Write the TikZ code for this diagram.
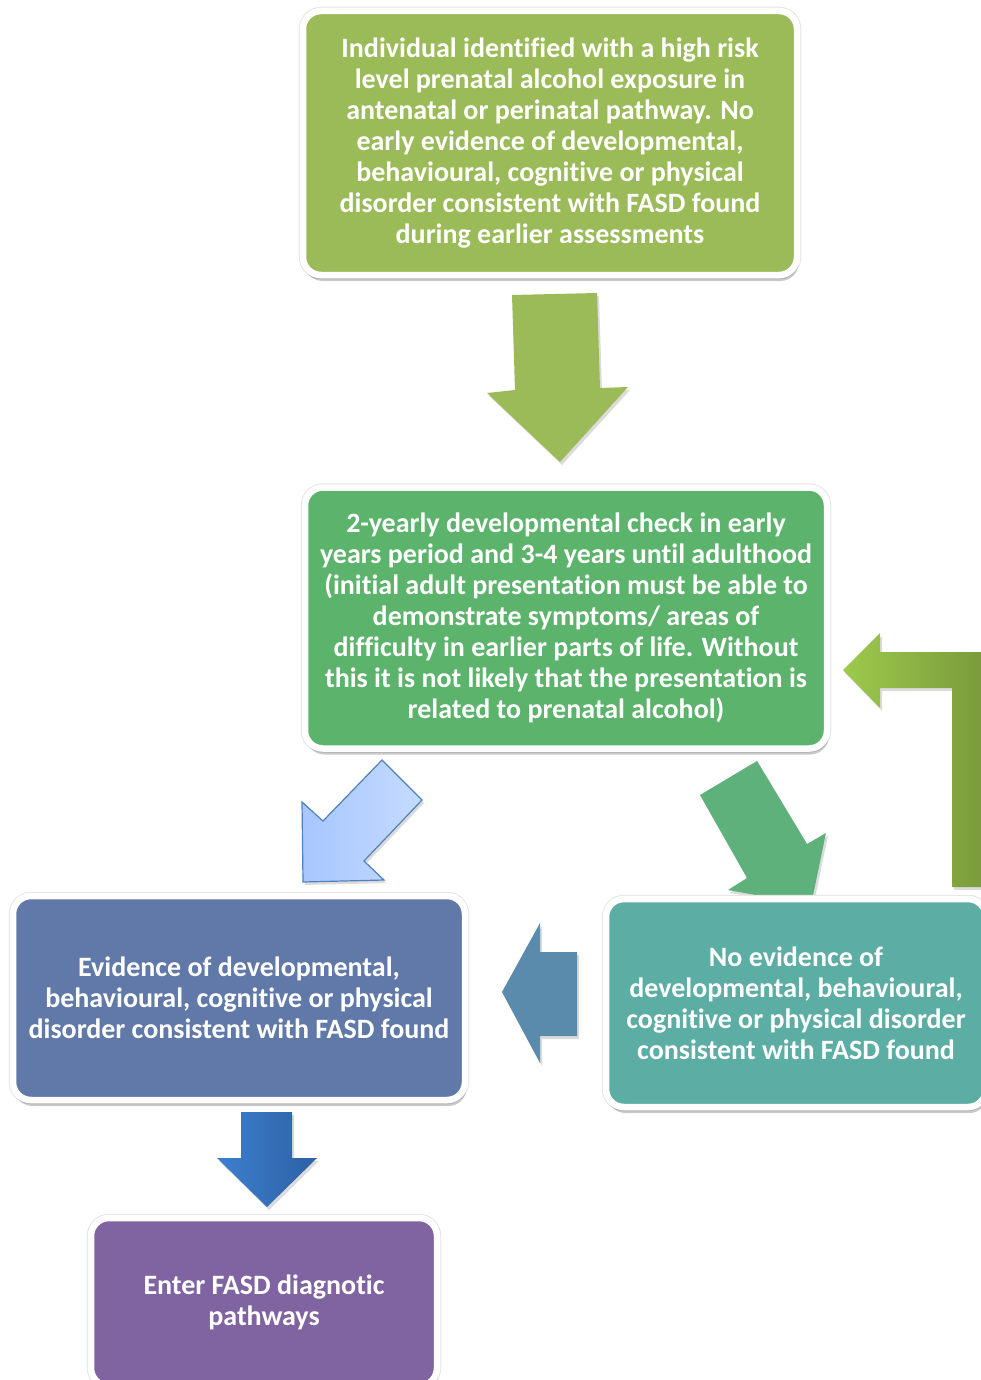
\documentclass[tikz,border=0pt]{standalone}
\usepackage{fontspec}
\setmainfont{Carlito}[Ligatures=NoCommon]
\usepackage{tikz}
\usetikzlibrary{shadows,positioning}
\definecolor{fsLime}    {RGB}{155,187, 89}
\definecolor{fsGreen}   {RGB}{ 92,179,107}
\definecolor{fsSlate}   {RGB}{ 96,121,168}
\definecolor{fsTeal}    {RGB}{ 92,173,163}
\definecolor{fsPurple}  {RGB}{128,100,162}
\definecolor{fsJade}    {RGB}{ 94,177,122}
\definecolor{fsSteel}   {RGB}{ 91,139,172}
\definecolor{fsSky}     {RGB}{166,198,255}
\definecolor{fsSkyL}    {RGB}{198,219,255}
\definecolor{fsSkyD}    {RGB}{ 79,129,189}
\definecolor{fsOliveL}  {RGB}{157,202, 76}
\definecolor{fsOliveD}  {RGB}{119,150, 58}
\definecolor{fsBlue}    {RGB}{ 60,128,206}
\definecolor{fsBlueD}   {RGB}{ 46, 96,164}

\begin{document}
\begin{tikzpicture}[
  x=1pt,y=-1pt,
  every node/.style={font=\fontsize{28}{31}\selectfont\bfseries,text=white},
  card/.style={draw=white,line width=6.5pt,rounded corners=18pt,align=center,inner sep=0pt,
              preaction={draw=black!10,line width=8.5pt},
              drop shadow={shadow xshift=1.5pt,shadow yshift=-6pt,opacity=.3,fill=black!70}},
  blk/.style={drop shadow={shadow xshift=2pt,shadow yshift=-3pt,opacity=.2,fill=black!70}}
]
\useasboundingbox (0,0) rectangle (980,1380);

% block arrows
\path[blk,fill=fsLime] (512,295) -- (597,293) -- (600,388) -- (628,387) -- (560,462)
  -- (487,393) -- (515,390) -- cycle;
\path[blk,draw=fsSkyD,line width=1.2pt,left color=fsSky,right color=fsSkyL]
  (382,760) -- (422,800) -- (364,861) -- (384,880) -- (303,882) -- (302,802) -- (323,821) -- cycle;
\path[blk,fill=fsJade] (700,795) -- (757,761) -- (807,844) -- (826,833) -- (811,905)
  -- (728,890) -- (747,878) -- cycle;
\path[blk,fill=fsSteel] (540,923) -- (540,952) -- (577,952) -- (577,1036) -- (540,1036)
  -- (540,1063) -- (502,992) -- cycle;
\path[blk,left color=fsOliveL,right color=fsOliveD] (843,670) -- (880,633) -- (880,652)
  -- (995,652) -- (995,887) -- (952,887) -- (952,688) -- (880,688) -- (880,708) -- cycle;
\path[blk,left color=fsBlue,right color=fsBlueD] (241,1112) -- (292,1112) -- (292,1158)
  -- (317,1158) -- (267,1207) -- (217,1158) -- (241,1158) -- cycle;

% boxes
\node[card,fill=fsLime,minimum width=494pt,minimum height=264pt] (risk) at (550,143)
  {Individual identified with a high risk\\level prenatal alcohol exposure in\\antenatal or perinatal pathway. No\\early evidence of developmental,\\behavioural, cognitive or physical\\disorder consistent with FASD found\\during earlier assessments};
\node[card,fill=fsGreen,minimum width=522pt,minimum height=261pt] (check) at (566,618)
  {2-yearly developmental check in early\\years period and 3-4 years until adulthood\\(initial adult presentation must be able to\\demonstrate symptoms/ areas of\\difficulty in earlier parts of life. Without\\this it is not likely that the presentation is\\related to prenatal alcohol)};
\node[card,fill=fsSlate,minimum width=452pt,minimum height=204pt] (found) at (239,998)
  {Evidence of developmental,\\behavioural, cognitive or physical\\disorder consistent with FASD found};
\node[card,fill=fsTeal,minimum width=380pt,minimum height=208pt] (none) at (796,1003)
  {No evidence of\\developmental, behavioural,\\cognitive or physical disorder\\consistent with FASD found};
\node[card,fill=fsPurple,minimum width=346pt,minimum height=168pt] (diag) at (264,1302)
  {Enter FASD diagnotic\\pathways};
\end{tikzpicture}
\end{document}
